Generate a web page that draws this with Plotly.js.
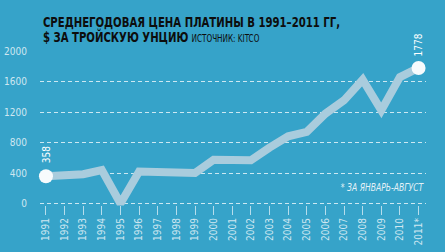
<!DOCTYPE html>
<html>
<head>
<meta charset="utf-8">
<script src="https://cdn.plot.ly/plotly-3.0.1.min.js"></script>
<style>
html,body{margin:0;padding:0;background:#36A3C9;}
#chart{width:445px;height:252px;}
</style>
</head>
<body>
<div id="chart"></div>
<script>
// Data
const years = [1991,1992,1993,1994,1995,1996,1997,1998,1999,2000,2001,2002,2003,2004,2005,2006,2007,2008,2009,2010,2011];
const prices = [358,370,385,440,0,420,410,395,400,575,565,568,734,882,939,1179,1353,1623,1222,1658,1778];
const tickLabels = ["1991","1992","1993","1994","1995","1996","1997","1998","1999","2000","2001","2002","2003","2004","2005","2006","2007","2008","2009","2010","2011*"];
const yTicks = [0,400,800,1200,1600,2000];
const endYears = [years[0], years[years.length-1]];
const endPrices = [prices[0], prices[prices.length-1]];

const FONT = "'Liberation Sans Narrow', 'DejaVu Sans Condensed', 'Roboto Condensed', sans-serif";
const LIGHT = "#cfe7f1";

const traces = [
  {
    x: years, y: prices, type: 'scatter', mode: 'lines',
    line: {color: '#A9CCDD', width: 8},
    cliponaxis: false, hoverinfo: 'skip'
  },
  {
    x: endYears, y: endPrices, type: 'scatter', mode: 'markers',
    marker: {color: '#F7FBFD', size: 14},
    cliponaxis: false, hoverinfo: 'skip'
  }
];

const layout = {
  width: 445, height: 252,
  paper_bgcolor: '#36A3C9', plot_bgcolor: '#36A3C9',
  margin: {l: 40, r: 19, t: 51, b: 37},
  showlegend: false,
  font: {family: FONT, color: LIGHT},
  xaxis: {
    range: [1990.68, 2011.4],
    tickvals: years, ticktext: tickLabels,
    tickangle: -90,
    ticks: 'inside', ticklen: 9, tickwidth: 1, tickcolor: 'rgba(225,240,247,0.75)',
    showgrid: false, zeroline: false, showline: false,
    tickfont: {family: FONT, size: 10, color: LIGHT}
  },
  yaxis: {
    range: [-150, 2000],
    tickvals: yTicks,
    ticks: 'outside', ticklen: 10, tickcolor: 'rgba(0,0,0,0)',
    showgrid: true, gridcolor: 'rgba(255,255,255,0.75)', gridwidth: 1, griddash: '4px,3px',
    zeroline: false, showline: false,
    tickfont: {family: FONT, size: 10, color: LIGHT}
  },
  annotations: [
    {
      xref: 'paper', yref: 'paper', x: 0.003, y: 1.178, xanchor: 'left', yanchor: 'middle',
      text: '<b>СРЕДНЕГОДОВАЯ ЦЕНА ПЛАТИНЫ В 1991–2011 ГГ,</b>',
      showarrow: false, font: {family: FONT, size: 14, color: '#0d0d0d'}
    },
    {
      xref: 'paper', yref: 'paper', x: 0.003, y: 1.083, xanchor: 'left', yanchor: 'middle',
      text: '<b>$ ЗА ТРОЙСКУЮ УНЦИЮ</b> <span style="font-size:10px">ИСТОЧНИК: KITCO</span>',
      showarrow: false, font: {family: FONT, size: 14, color: '#0d0d0d'}
    },
    {
      x: endYears[0], y: endPrices[0], yshift: 22, textangle: -90,
      text: String(endPrices[0]), showarrow: false,
      font: {family: FONT, size: 10, color: '#ffffff'}
    },
    {
      x: endYears[1], y: endPrices[1], yshift: 23, textangle: -90,
      text: String(endPrices[1]), showarrow: false,
      font: {family: FONT, size: 10, color: '#ffffff'}
    },
    {
      xref: 'paper', x: 1, y: 216, xanchor: 'right', yanchor: 'middle',
      text: '<i>* ЗА ЯНВАРЬ-АВГУСТ</i>', showarrow: false,
      font: {family: FONT, size: 10, color: '#e3f1f7'}
    }
  ]
};

Plotly.newPlot('chart', traces, layout, {staticPlot: true, displayModeBar: false}).then(function (gd) {
  // Narrow the heavy title lines and the footnote horizontally to mimic the condensed poster type
  const targets = [[0, 300], [1, 219], [4, 86]];
  const anns = gd.querySelectorAll('.annotation');
  targets.forEach(function (t) {
    const g = anns[t[0]] && anns[t[0]].querySelector('.annotation-text-g');
    if (!g) return;
    const r = g.getBoundingClientRect();
    const s = t[1] / r.width;
    const x0 = (t[0] === 4) ? r.right : r.left;
    const prev = g.getAttribute('transform') || '';
    g.setAttribute('transform', 'translate(' + x0 + ',0) scale(' + s + ',1) translate(' + (-x0) + ',0) ' + prev);
  });
});
</script>
</body>
</html>
